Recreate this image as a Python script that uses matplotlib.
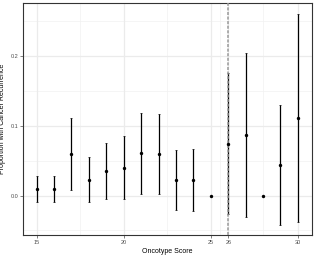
import matplotlib
matplotlib.use("Agg")
import matplotlib.pyplot as plt
import numpy as np

scores = [15, 16, 17, 18, 19, 20, 21, 22, 23, 24, 25, 26, 27, 28, 29, 30]
prop = [0.009, 0.009, 0.0595, 0.023, 0.036, 0.040, 0.061, 0.0595, 0.022, 0.022, 0.0, 0.074, 0.087, 0.0, 0.044, 0.112]
lower = [-0.0086, -0.0086, 0.0086, -0.0086, -0.005, -0.005, 0.0024, 0.0024, -0.021, -0.022, 0.0, -0.026, -0.030, 0.0, -0.042, -0.038]
upper = [0.0276, 0.0276, 0.111, 0.055, 0.076, 0.085, 0.119, 0.117, 0.065, 0.067, 0.0, 0.176, 0.205, 0.0, 0.1295, 0.261]
x_breaks = [15, 20, 25, 26, 30]
x_minor = [17.5, 22.5, 25.5, 28]
y_breaks = [0.0, 0.1, 0.2]
y_minor = [-0.05, 0.05, 0.15, 0.25]
cutoff = 26

plt.rcParams['font.family'] = ['Liberation Sans', 'DejaVu Sans']
fig = plt.figure(figsize=(3.15, 2.56), dpi=100)
ax = fig.add_axes([23/315, 1 - 235/256, (311.5 - 23)/315, (235 - 3)/256])

# grid
for v in x_minor:
    ax.axvline(v, color='#f2f2f2', lw=0.5, zorder=0)
for v in y_minor:
    ax.axhline(v, color='#f2f2f2', lw=0.5, zorder=0)
for v in x_breaks:
    ax.axvline(v, color='#ebebeb', lw=0.9, zorder=0)
for v in y_breaks:
    ax.axhline(v, color='#ebebeb', lw=0.9, zorder=0)

x = np.array(scores, dtype=float)
p = np.array(prop)
lo = np.array(lower)
hi = np.array(upper)
ax.errorbar(x, p, yerr=[p - lo, hi - p], fmt='none', ecolor='black', elinewidth=0.9,
            capsize=1.0, capthick=0.5, zorder=2)
ax.axvline(cutoff, color='#999999', lw=1.1, ls=(0, (2, 1)), zorder=3)
ax.scatter(x, p, s=6, color='black', marker='o', zorder=4, linewidths=0)

ax.set_xlim(14.22, 30.78)
ax.set_ylim(-0.0565, 0.2765)
ax.set_xticks(x_breaks)
ax.set_xticklabels([str(v) for v in x_breaks])
ax.set_yticks(y_breaks)
ax.set_yticklabels(['0.0', '0.1', '0.2'])
ax.tick_params(axis='both', labelsize=4, colors='#4d4d4d', length=2, width=0.5, pad=1.5)
for s in ax.spines.values():
    s.set_color('#333333')
    s.set_linewidth(0.8)
ax.set_xlabel('Oncotype Score', fontsize=5, labelpad=2)
ax.set_ylabel('Proportion with Cancer Recurrence', fontsize=5, labelpad=3)

fig.savefig('out.png', dpi=100)
